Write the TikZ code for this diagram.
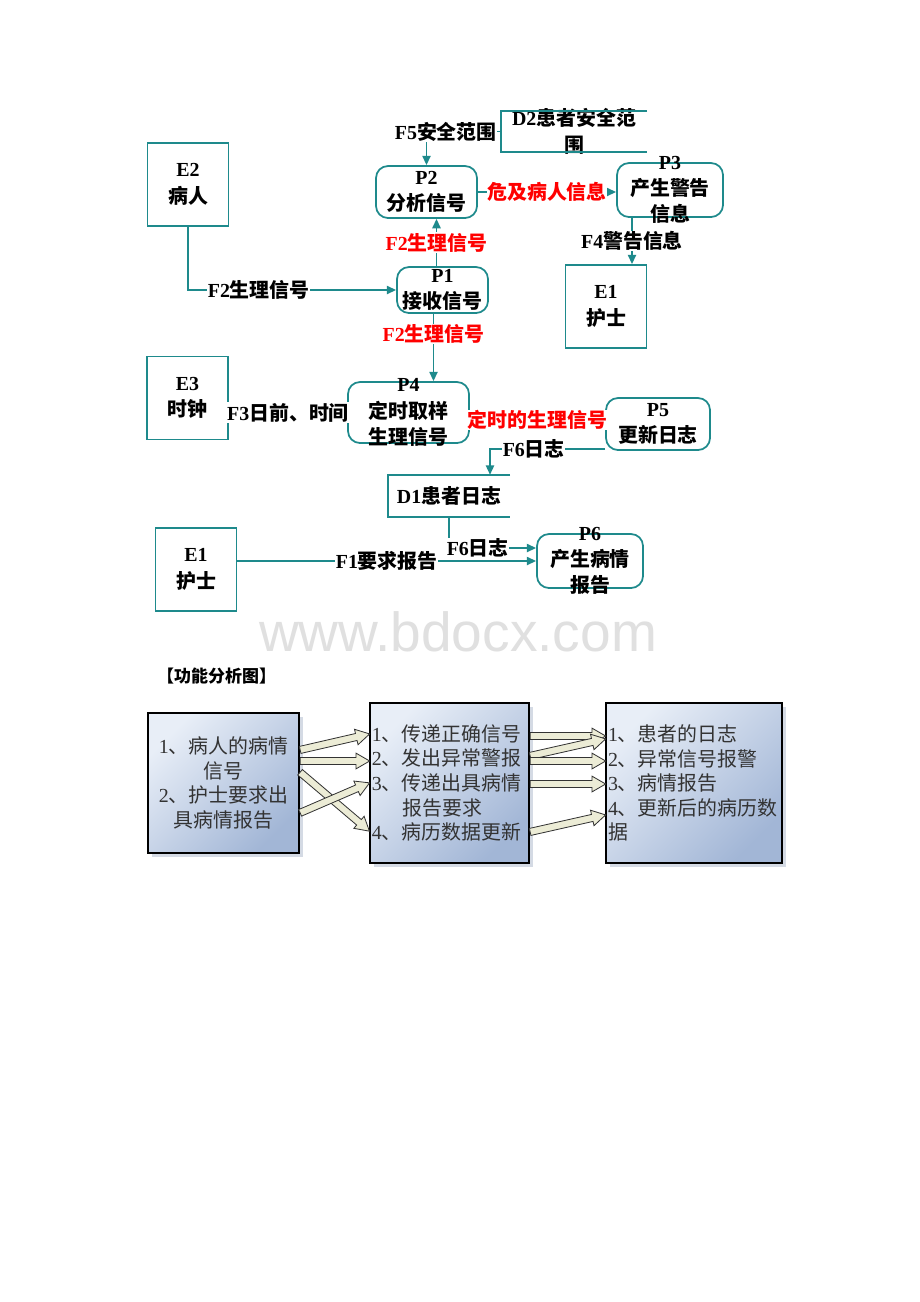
\documentclass[tikz,border=0pt]{standalone}
\usepackage{fontspec}
\setmainfont{Liberation Serif}
\setsansfont{Liberation Sans}
\newfontfamily\cjkfont{Noto Sans CJK SC}
\newcommand{\zh}[1]{{\cjkfont #1}}
\newcommand{\dfdfont}{\fontsize{17}{22.5}\selectfont\bfseries}
\newcommand{\boxfont}{\fontsize{17}{21}\selectfont}
\usetikzlibrary{arrows.meta,calc,shapes.arrows,shadows}
\definecolor{dfdline}{RGB}{30,138,140}
\definecolor{boxlight}{RGB}{232,238,247}
\definecolor{boxdark}{RGB}{162,182,214}
\definecolor{boxshadow}{RGB}{212,218,228}
\definecolor{arrowfill}{RGB}{236,236,214}
\newcommand{\fatarrow}[2]{%
  \path let \p1=($(#2)-(#1)$), \n1={atan2(\y1,\x1)}, \n2={veclen(\x1,\y1)} in
    node[fatarr, minimum height=\n2, rotate=\n1, anchor=tail] at (#1) {};}

\begin{document}
\begin{tikzpicture}[x=0.03cm, y=-0.03cm]
\tikzstyle{entity} = [rectangle, draw=dfdline, line width=1.5pt, minimum width=2.43cm, minimum height=2.49cm, align=center, font=\dfdfont, inner sep=0pt]
\tikzstyle{process} = [rectangle, rounded corners=0.36cm, draw=dfdline, line width=1.5pt, inner sep=0pt]
\tikzstyle{ptext} = [align=center, font=\dfdfont, inner sep=0pt]
\tikzstyle{store} = [rectangle, inner sep=0pt]
\tikzstyle{storeline} = [draw=dfdline, line width=1.5pt]
\tikzstyle{flow} = [draw=dfdline, line width=1.5pt, -{Triangle[length=8pt,width=7pt]}]
\tikzstyle{lbl} = [fill=white, inner sep=0.5pt, font=\dfdfont]
\tikzstyle{hot} = [lbl, text=red]
\tikzstyle{funcbox} = [rectangle, draw=black, line width=1.3pt, top color=boxlight, bottom color=boxdark, shading angle=45, drop shadow={shadow xshift=0.13cm, shadow yshift=-0.13cm, fill=boxshadow, opacity=1}, font=\boxfont, text=black!80, inner xsep=0.06cm]
\tikzstyle{fatarr} = [single arrow, draw=black!80, fill=arrowfill, line width=0.7pt, inner xsep=0pt, inner ysep=0.095cm, single arrow head extend=0.13cm, single arrow tip angle=60, single arrow head indent=0cm]
\fill[white] (0,0) rectangle (920,1302);
\useasboundingbox (0,0) rectangle (920,1302);

\node (E2) at (188,184.5) [entity] {E2\\\zh{病人}};
\node (E1a) at (606,306.5) [entity] {E1\\\zh{护士}};
\node (E3) at (187.5,398) [entity] {E3\\\zh{时钟}};
\node (E1b) at (196,569.5) [entity] {E1\\\zh{护士}};
\node (P2) at (426.5,192) [process, minimum width=3.03cm, minimum height=1.56cm, label={[ptext]center:{P2\\\zh{分析信号}}}] {};
\node (P1) at (442.5,290) [process, minimum width=2.73cm, minimum height=1.38cm, label={[ptext]center:{P1\\\zh{接收信号}}}] {};
\node (P3) at (670,190) [process, minimum width=3.18cm, minimum height=1.62cm, label={[ptext]center:{P3\\\zh{产生警告}\\\zh{信息}}}] {};
\node (P4) at (408.5,412.5) [process, minimum width=3.63cm, minimum height=1.83cm, label={[ptext]center:{P4\\\zh{定时取样}\\\zh{生理信号}}}] {};
\node (P5) at (658,424) [process, minimum width=3.12cm, minimum height=1.56cm, label={[ptext]center:{P5\\\zh{更新日志}}}] {};
\node (P6) at (590,561) [process, minimum width=3.18cm, minimum height=1.62cm, label={[ptext]center:{P6\\\zh{产生病情}\\\zh{报告}}}] {};
\node (D2) at (574,131.5) [store, minimum width=4.38cm, minimum height=1.23cm, label={[ptext]center:{D2\zh{患者安全范}\\\zh{围}}}] {};
\node (D1) at (449,496) [store, minimum width=3.66cm, minimum height=1.26cm, label={[ptext]center:{D1\zh{患者日志}}}] {};
\draw[storeline] (D2.north east) -- (D2.north west) -- (D2.south west) -- (D2.south east);
\draw[storeline] (D1.north east) -- (D1.north west) -- (D1.south west) -- (D1.south east);

\coordinate (P1up) at ($(P1.north)+(-6,0)$);
\coordinate (P1dn) at ($(P1.south)+(-9,0)$);
\coordinate (P3dn) at ($(P3.south)+(-38,0)$);
\coordinate (P5in) at ($(P5.west)+(0,-4)$);
\coordinate (P5out) at ($(P5.south west)+(0,-2)$);
\coordinate (D1in) at ($(D1.north)+(41,0)$);
\coordinate (P6in) at ($(P6.west)+(0,-13)$);
\draw[flow] (E2.south) |- (P1.west) node[lbl, pos=0.67] {F2\zh{生理信号}};
\draw[flow] (P1up) -- (P1up |- P2.south) node[hot, midway] {F2\zh{生理信号}};
\draw[flow] (P1dn) -- (P1dn |- P4.north) node[hot, pos=0.3] {F2\zh{生理信号}};
\draw[flow] (D2.west) -| (P2.north) node[lbl, pos=0.37] {F5\zh{安全范围}};
\draw[flow] (P2.east) -- (P2.east -| P3.west) node[hot, midway] {\zh{危及病人信息}};
\draw[flow] (P3dn) -- (P3dn |- E1a.north) node[lbl, midway] {F4\zh{警告信息}};
\draw[flow] (P4.west -| E3.east) -- (P4.west) node[lbl, midway] {F3\zh{日前、时间}};
\draw[flow] (P4.east |- P5in) -- (P5in) node[hot, midway] {\zh{定时的生理信号}};
\draw[flow] (P5out) -| (D1in) node[lbl, pos=0.31] {F6\zh{日志}};
\draw[flow] (D1.south) |- (P6in) node[lbl, pos=0.665] {F6\zh{日志}};
\draw[flow] (P6.west -| E1b.east) -- (P6.west) node[lbl, midway] {F1\zh{要求报告}};

\node (mark) at (458,632) [font=\sffamily\fontsize{47}{50}\selectfont, text=black!12] {www.bdocx.com};
\node (title) at (153,676) [anchor=west, font=\fontsize{14.5}{17}\selectfont\bfseries] {\zh{【功能分析图】}};

\node (FA) at (223.5,783) [funcbox, minimum width=4.53cm, minimum height=4.2cm, text width=4.41cm, align=center] {1\zh{、病人的病情}\\\zh{信号}\\2\zh{、护士要求出}\\\zh{具病情报告}};
\node (FB) at (449.5,783) [funcbox, minimum width=4.77cm, minimum height=4.8cm, text width=4.65cm, align=left] {1\zh{、传递正确信号}\\2\zh{、发出异常警报}\\3\zh{、传递出具病情}\\\zh{\phantom{3、}报告要求}\\4\zh{、病历数据更新}};
\node (FC) at (694,783) [funcbox, minimum width=5.28cm, minimum height=4.8cm, text width=5.16cm, align=left] {1\zh{、患者的日志}\\2\zh{、异常信号报警}\\3\zh{、病情报告}\\4\zh{、更新后的病历数}\\\zh{据}};
\foreach \s/\e [count=\i] in {750/734, 761/761, 772/831, 813/783} {
  \coordinate (abs\i) at (FA.east |- 0,\s);
  \coordinate (abe\i) at (FB.west |- 0,\e);
  \fatarrow{abs\i}{abe\i}
}
\foreach \s/\e [count=\i] in {736/736, 756/739, 761/761, 784/784, 832/815} {
  \coordinate (bcs\i) at (FB.east |- 0,\s);
  \coordinate (bce\i) at (FC.west |- 0,\e);
  \fatarrow{bcs\i}{bce\i}
}
\end{tikzpicture}
\end{document}
